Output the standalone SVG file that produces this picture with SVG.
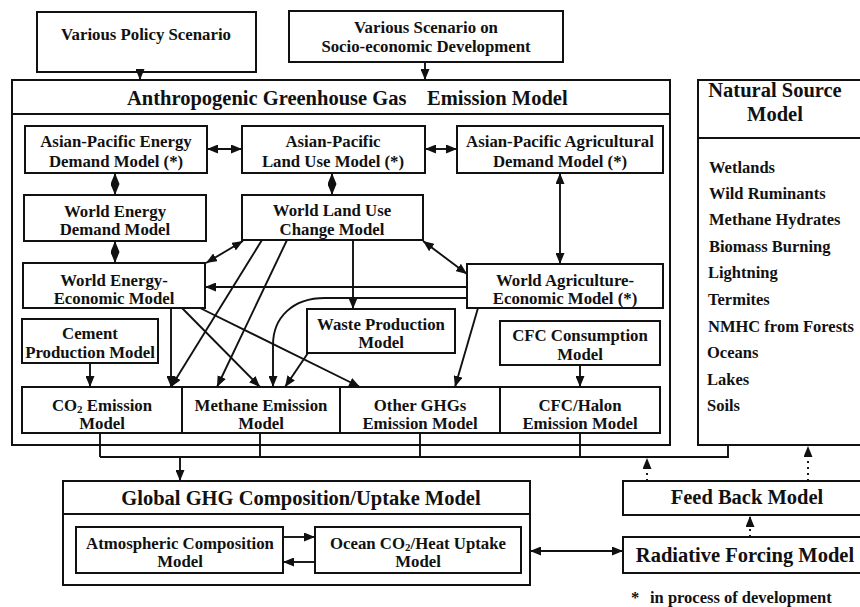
<svg xmlns="http://www.w3.org/2000/svg" width="860" height="607" viewBox="0 0 860 607">
  <style>
    .box { fill: #fff; stroke: #111; stroke-width: 2; }
    .ln { fill: none; stroke: #111; stroke-width: 1.9; }
    .dot { fill: none; stroke: #111; stroke-width: 1.9; stroke-dasharray: 2 4; }
    text { font-family: "Liberation Serif", "Times New Roman", serif; font-weight: bold; fill: #111; }
    .t { font-size: 16.8px; text-anchor: middle; }
    .h { font-size: 20.5px; text-anchor: middle; }
    .l { font-size: 16.5px; text-anchor: start; }
  </style>
  <defs>
    <marker id="ah" viewBox="0 0 11 9" refX="11" refY="4.5" markerWidth="11" markerHeight="9" markerUnits="userSpaceOnUse" orient="auto-start-reverse">
      <path d="M0,0 L11,4.5 L0,9 z" fill="#111"/>
    </marker>
  </defs>

  <rect width="860" height="607" fill="#fff"/>

  <!-- scenario inputs -->
  <g id="policy">
    <rect class="box" x="37" y="12" width="219" height="60"/>
    <text class="t" x="146" y="40">Various Policy Scenario</text>
  </g>
  <g id="socio">
    <rect class="box" x="289" y="11" width="274" height="51"/>
    <text class="t" x="426" y="33">Various Scenario on</text>
    <text class="t" x="426" y="52">Socio-economic Development</text>
  </g>

  <!-- anthropogenic emission model frame -->
  <g id="anthropogenic">
    <rect class="box" x="12" y="80" width="658" height="365"/>
    <line class="ln" x1="12" y1="114" x2="670" y2="114" stroke-width="2"/>
    <text class="h" x="127" y="105" style="text-anchor:start">Anthropogenic Greenhouse Gas</text>
    <text class="h" x="427" y="105" style="text-anchor:start">Emission Model</text>
  </g>

  <g id="ap-energy">
    <rect class="box" x="25" y="126" width="182" height="47"/>
    <text class="t" x="116" y="147">Asian-Pacific Energy</text>
    <text class="t" x="116" y="167">Demand Model (*)</text>
  </g>
  <g id="ap-landuse">
    <rect class="box" x="242" y="126" width="183" height="47"/>
    <text class="t" x="333" y="147">Asian-Pacific</text>
    <text class="t" x="333" y="167">Land Use Model (*)</text>
  </g>
  <g id="ap-agri">
    <rect class="box" x="457" y="126" width="206" height="47"/>
    <text class="t" x="560" y="147">Asian-Pacific Agricultural</text>
    <text class="t" x="560" y="167">Demand Model (*)</text>
  </g>
  <g id="world-energy-demand">
    <rect class="box" x="24" y="195" width="182" height="46"/>
    <text class="t" x="115" y="217">World Energy</text>
    <text class="t" x="115" y="235">Demand Model</text>
  </g>
  <g id="world-landuse">
    <rect class="box" x="242" y="195" width="181" height="45"/>
    <text class="t" x="332" y="216">World Land Use</text>
    <text class="t" x="332" y="235">Change Model</text>
  </g>
  <g id="world-energy-econ">
    <rect class="box" x="23" y="263" width="182" height="45"/>
    <text class="t" x="114" y="286">World Energy-</text>
    <text class="t" x="114" y="304">Economic Model</text>
  </g>
  <g id="world-agri-econ">
    <rect class="box" x="467" y="264" width="196" height="44"/>
    <text class="t" x="565" y="286">World Agriculture-</text>
    <text class="t" x="565" y="304">Economic Model (*)</text>
  </g>
  <g id="cement">
    <rect class="box" x="22" y="319" width="136" height="44"/>
    <text class="t" x="90" y="339">Cement</text>
    <text class="t" x="90" y="358">Production Model</text>
  </g>
  <g id="waste">
    <rect class="box" x="307" y="309" width="148" height="44"/>
    <text class="t" x="381" y="330">Waste Production</text>
    <text class="t" x="381" y="348">Model</text>
  </g>
  <g id="cfc-consumption">
    <rect class="box" x="500" y="321" width="160" height="44"/>
    <text class="t" x="580" y="341">CFC Consumption</text>
    <text class="t" x="580" y="360">Model</text>
  </g>

  <!-- emission row -->
  <g id="co2-emission">
    <rect class="box" x="22" y="387" width="160" height="46"/>
    <text class="t" x="102" y="411">CO<tspan font-size="11" dy="2">2</tspan><tspan dy="-2"> Emission</tspan></text>
    <text class="t" x="102" y="429">Model</text>
  </g>
  <g id="methane-emission">
    <rect class="box" x="182" y="387" width="158" height="46"/>
    <text class="t" x="261" y="411">Methane Emission</text>
    <text class="t" x="261" y="429">Model</text>
  </g>
  <g id="other-emission">
    <rect class="box" x="340" y="387" width="160" height="46"/>
    <text class="t" x="420" y="411">Other GHGs</text>
    <text class="t" x="420" y="429">Emission Model</text>
  </g>
  <g id="cfc-emission">
    <rect class="box" x="500" y="387" width="160" height="46"/>
    <text class="t" x="580" y="411">CFC/Halon</text>
    <text class="t" x="580" y="429">Emission Model</text>
  </g>

  <!-- natural sources -->
  <g id="natural-source">
    <path class="box" d="M872,80 H698 V445 H872"/>
    <line class="ln" x1="698" y1="138" x2="872" y2="138" stroke-width="2"/>
    <text class="h" x="775" y="97">Natural Source</text>
    <text class="h" x="775" y="121">Model</text>
    <text class="l" x="709" y="173">Wetlands</text>
    <text class="l" x="709" y="199">Wild Ruminants</text>
    <text class="l" x="709" y="225">Methane Hydrates</text>
    <text class="l" x="709" y="252">Biomass Burning</text>
    <text class="l" x="708" y="278">Lightning</text>
    <text class="l" x="708" y="305">Termites</text>
    <text class="l" x="708" y="332">NMHC from Forests</text>
    <text class="l" x="707" y="358">Oceans</text>
    <text class="l" x="707" y="385">Lakes</text>
    <text class="l" x="707" y="411">Soils</text>
  </g>

  <!-- global composition / uptake -->
  <g id="global">
    <rect class="box" x="63" y="481" width="467" height="104"/>
    <line class="ln" x1="63" y1="514" x2="530" y2="514" stroke-width="2"/>
    <text class="h" x="301" y="505">Global GHG Composition/Uptake Model</text>
  </g>
  <g id="atmospheric">
    <rect class="box" x="76" y="527" width="207" height="46"/>
    <text class="t" x="180" y="549">Atmospheric Composition</text>
    <text class="t" x="180" y="567">Model</text>
  </g>
  <g id="ocean">
    <rect class="box" x="315" y="527" width="206" height="46"/>
    <text class="t" x="418" y="549">Ocean CO<tspan font-size="11" dy="2">2</tspan><tspan dy="-2">/Heat Uptake</tspan></text>
    <text class="t" x="418" y="567">Model</text>
  </g>
  <g id="feedback">
    <path class="box" d="M872,481 H623 V515 H872"/>
    <text class="h" x="747" y="504">Feed Back Model</text>
  </g>
  <g id="radiative">
    <path class="box" d="M872,537 H623 V573 H872"/>
    <text class="h" x="745" y="562">Radiative Forcing Model</text>
  </g>
  <g id="note">
    <text class="l" x="631" y="603">*</text>
    <text class="l" x="650" y="603" font-size="17">in process of development</text>
  </g>

  <!-- connectors -->
  <g id="connectors">
    <line class="ln" x1="140" y1="72" x2="140" y2="80" marker-end="url(#ah)"/>
    <line class="ln" x1="425" y1="62" x2="425" y2="80" marker-end="url(#ah)"/>

    <!-- Asian-Pacific row links -->
    <line class="ln" x1="207" y1="149" x2="242" y2="149" marker-start="url(#ah)" marker-end="url(#ah)"/>
    <line class="ln" x1="425" y1="149" x2="457" y2="149" marker-start="url(#ah)" marker-end="url(#ah)"/>
    <line class="ln" x1="115" y1="173" x2="115" y2="195" marker-start="url(#ah)" marker-end="url(#ah)"/>
    <line class="ln" x1="115" y1="241" x2="115" y2="263" marker-start="url(#ah)" marker-end="url(#ah)"/>
    <line class="ln" x1="332" y1="173" x2="332" y2="195" marker-start="url(#ah)" marker-end="url(#ah)"/>
    <line class="ln" x1="560" y1="173" x2="560" y2="264" marker-start="url(#ah)" marker-end="url(#ah)"/>

    <!-- world land use links -->
    <line class="ln" x1="243" y1="241" x2="206" y2="263" marker-start="url(#ah)" marker-end="url(#ah)"/>
    <line class="ln" x1="423" y1="241" x2="467" y2="274" marker-start="url(#ah)" marker-end="url(#ah)"/>
    <line class="ln" x1="467" y1="287" x2="205" y2="287" marker-end="url(#ah)"/>
    <path class="ln" d="M467,298 H325 C292,298 273,318 273,345 V387" marker-end="url(#ah)"/>
    <line class="ln" x1="353" y1="240" x2="353" y2="309" marker-end="url(#ah)"/>
    <line class="ln" x1="262" y1="240" x2="171" y2="387" marker-end="url(#ah)"/>
    <line class="ln" x1="287" y1="240" x2="217" y2="387" marker-end="url(#ah)"/>

    <!-- energy-economic links -->
    <line class="ln" x1="171" y1="308" x2="171" y2="387" marker-end="url(#ah)"/>
    <line class="ln" x1="182" y1="308" x2="260" y2="387" marker-end="url(#ah)"/>
    <line class="ln" x1="200" y1="308" x2="360" y2="387" marker-end="url(#ah)"/>

    <!-- other sources into emission row -->
    <line class="ln" x1="478" y1="308" x2="455" y2="387" marker-end="url(#ah)"/>
    <line class="ln" x1="308" y1="353" x2="285" y2="387" marker-end="url(#ah)"/>
    <line class="ln" x1="90" y1="363" x2="90" y2="387" marker-end="url(#ah)"/>
    <line class="ln" x1="580" y1="365" x2="580" y2="387" marker-end="url(#ah)"/>

    <!-- emission bus -->
    <path class="ln" d="M100,433 V457 M260,433 V457 M420,433 V457 M580,433 V457 M100,457 H728 V445" stroke-width="2.3"/>
    <line class="ln" x1="180" y1="457" x2="180" y2="481" marker-end="url(#ah)"/>

    <!-- feedback paths -->
    <line class="dot" x1="647" y1="481" x2="647" y2="458" marker-end="url(#ah)"/>
    <line class="dot" x1="808" y1="481" x2="808" y2="446" marker-end="url(#ah)"/>
    <line class="dot" x1="750" y1="537" x2="750" y2="516" marker-end="url(#ah)"/>

    <!-- composition / uptake exchange -->
    <line class="ln" x1="283" y1="537" x2="315" y2="537" marker-end="url(#ah)"/>
    <line class="ln" x1="315" y1="562" x2="283" y2="562" marker-end="url(#ah)"/>
    <line class="ln" x1="530" y1="551" x2="623" y2="551" marker-start="url(#ah)" marker-end="url(#ah)"/>
  </g>
</svg>
